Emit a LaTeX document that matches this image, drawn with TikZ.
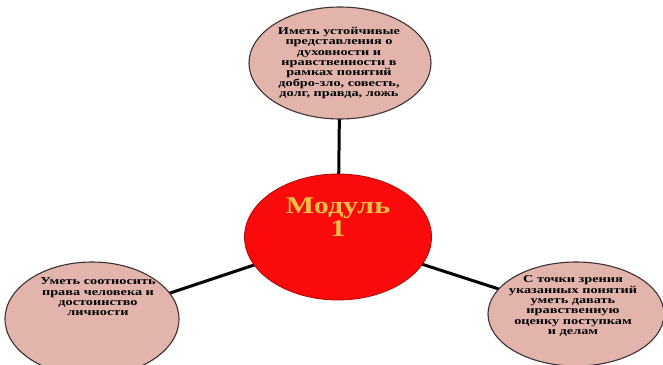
\documentclass[tikz,border=0pt]{standalone}
\usepackage{fontspec}
\setmainfont{Liberation Serif}
\newfontfamily\widefont{Liberation Serif}[FakeStretch=1.36]
\newfontfamily\modfont{Liberation Serif}[FakeStretch=1.25]
\usetikzlibrary{backgrounds,shapes.geometric}
\definecolor{pinkfill}{RGB}{226,180,172}
\definecolor{modred}{RGB}{250,10,10}
\definecolor{goldtxt}{RGB}{240,192,70}
\definecolor{edgegray}{RGB}{60,50,50}
\tikzset{
  goal/.style={ellipse, draw=edgegray, line width=1.1pt, fill=pinkfill, inner sep=0pt},
  goaltext/.style={align=center, font=\widefont\bfseries\fontsize{10.5}{10.3}\selectfont, text=black, inner sep=0pt},
  link/.style={line width=3pt, black},
}
\begin{document}
\begin{tikzpicture}[x=1pt,y=-1pt]
\useasboundingbox (0,0) rectangle (663,364);
\clip (0,0) rectangle (663,364);
\node[goal, minimum width=182pt, minimum height=112pt] (top) at (340,63) {};
\node[goal, minimum width=174pt, minimum height=114pt] (left) at (92,319) {};
\node[goal, minimum width=176pt, minimum height=104pt] (right) at (576,314) {};
\node[ellipse, draw=modred!70!black, line width=0.8pt, fill=modred, minimum width=187pt, minimum height=126pt, inner sep=0pt] (mod) at (338,237) {};
\begin{scope}[on background layer]
\fill[white] (0,0) rectangle (663,364);
\draw[link] (mod.center) -- (top.center);
\draw[link] (mod.center) -- (left.center);
\draw[link] (mod.center) -- (right.center);
\end{scope}
\node[goaltext] (toptxt) at (339,63) {Иметь устойчивые\\представления о\\духовности и\\нравственности в\\рамках понятий\\добро-зло, совесть,\\долг, правда, ложь};
\node[goaltext] (lefttxt) at (98,297) {Уметь соотносить\\права человека и\\достоинство\\личности};
\node[goaltext] (righttxt) at (573,306) {С точки зрения\\указанных понятий\\уметь давать\\нравственную\\оценку поступкам\\и делам};
\node[align=center, font=\modfont\bfseries\fontsize{24}{23}\selectfont, text=goldtxt, inner sep=0pt] (modtxt) at (338,217) {Модуль\\1};
\end{tikzpicture}
\end{document}
